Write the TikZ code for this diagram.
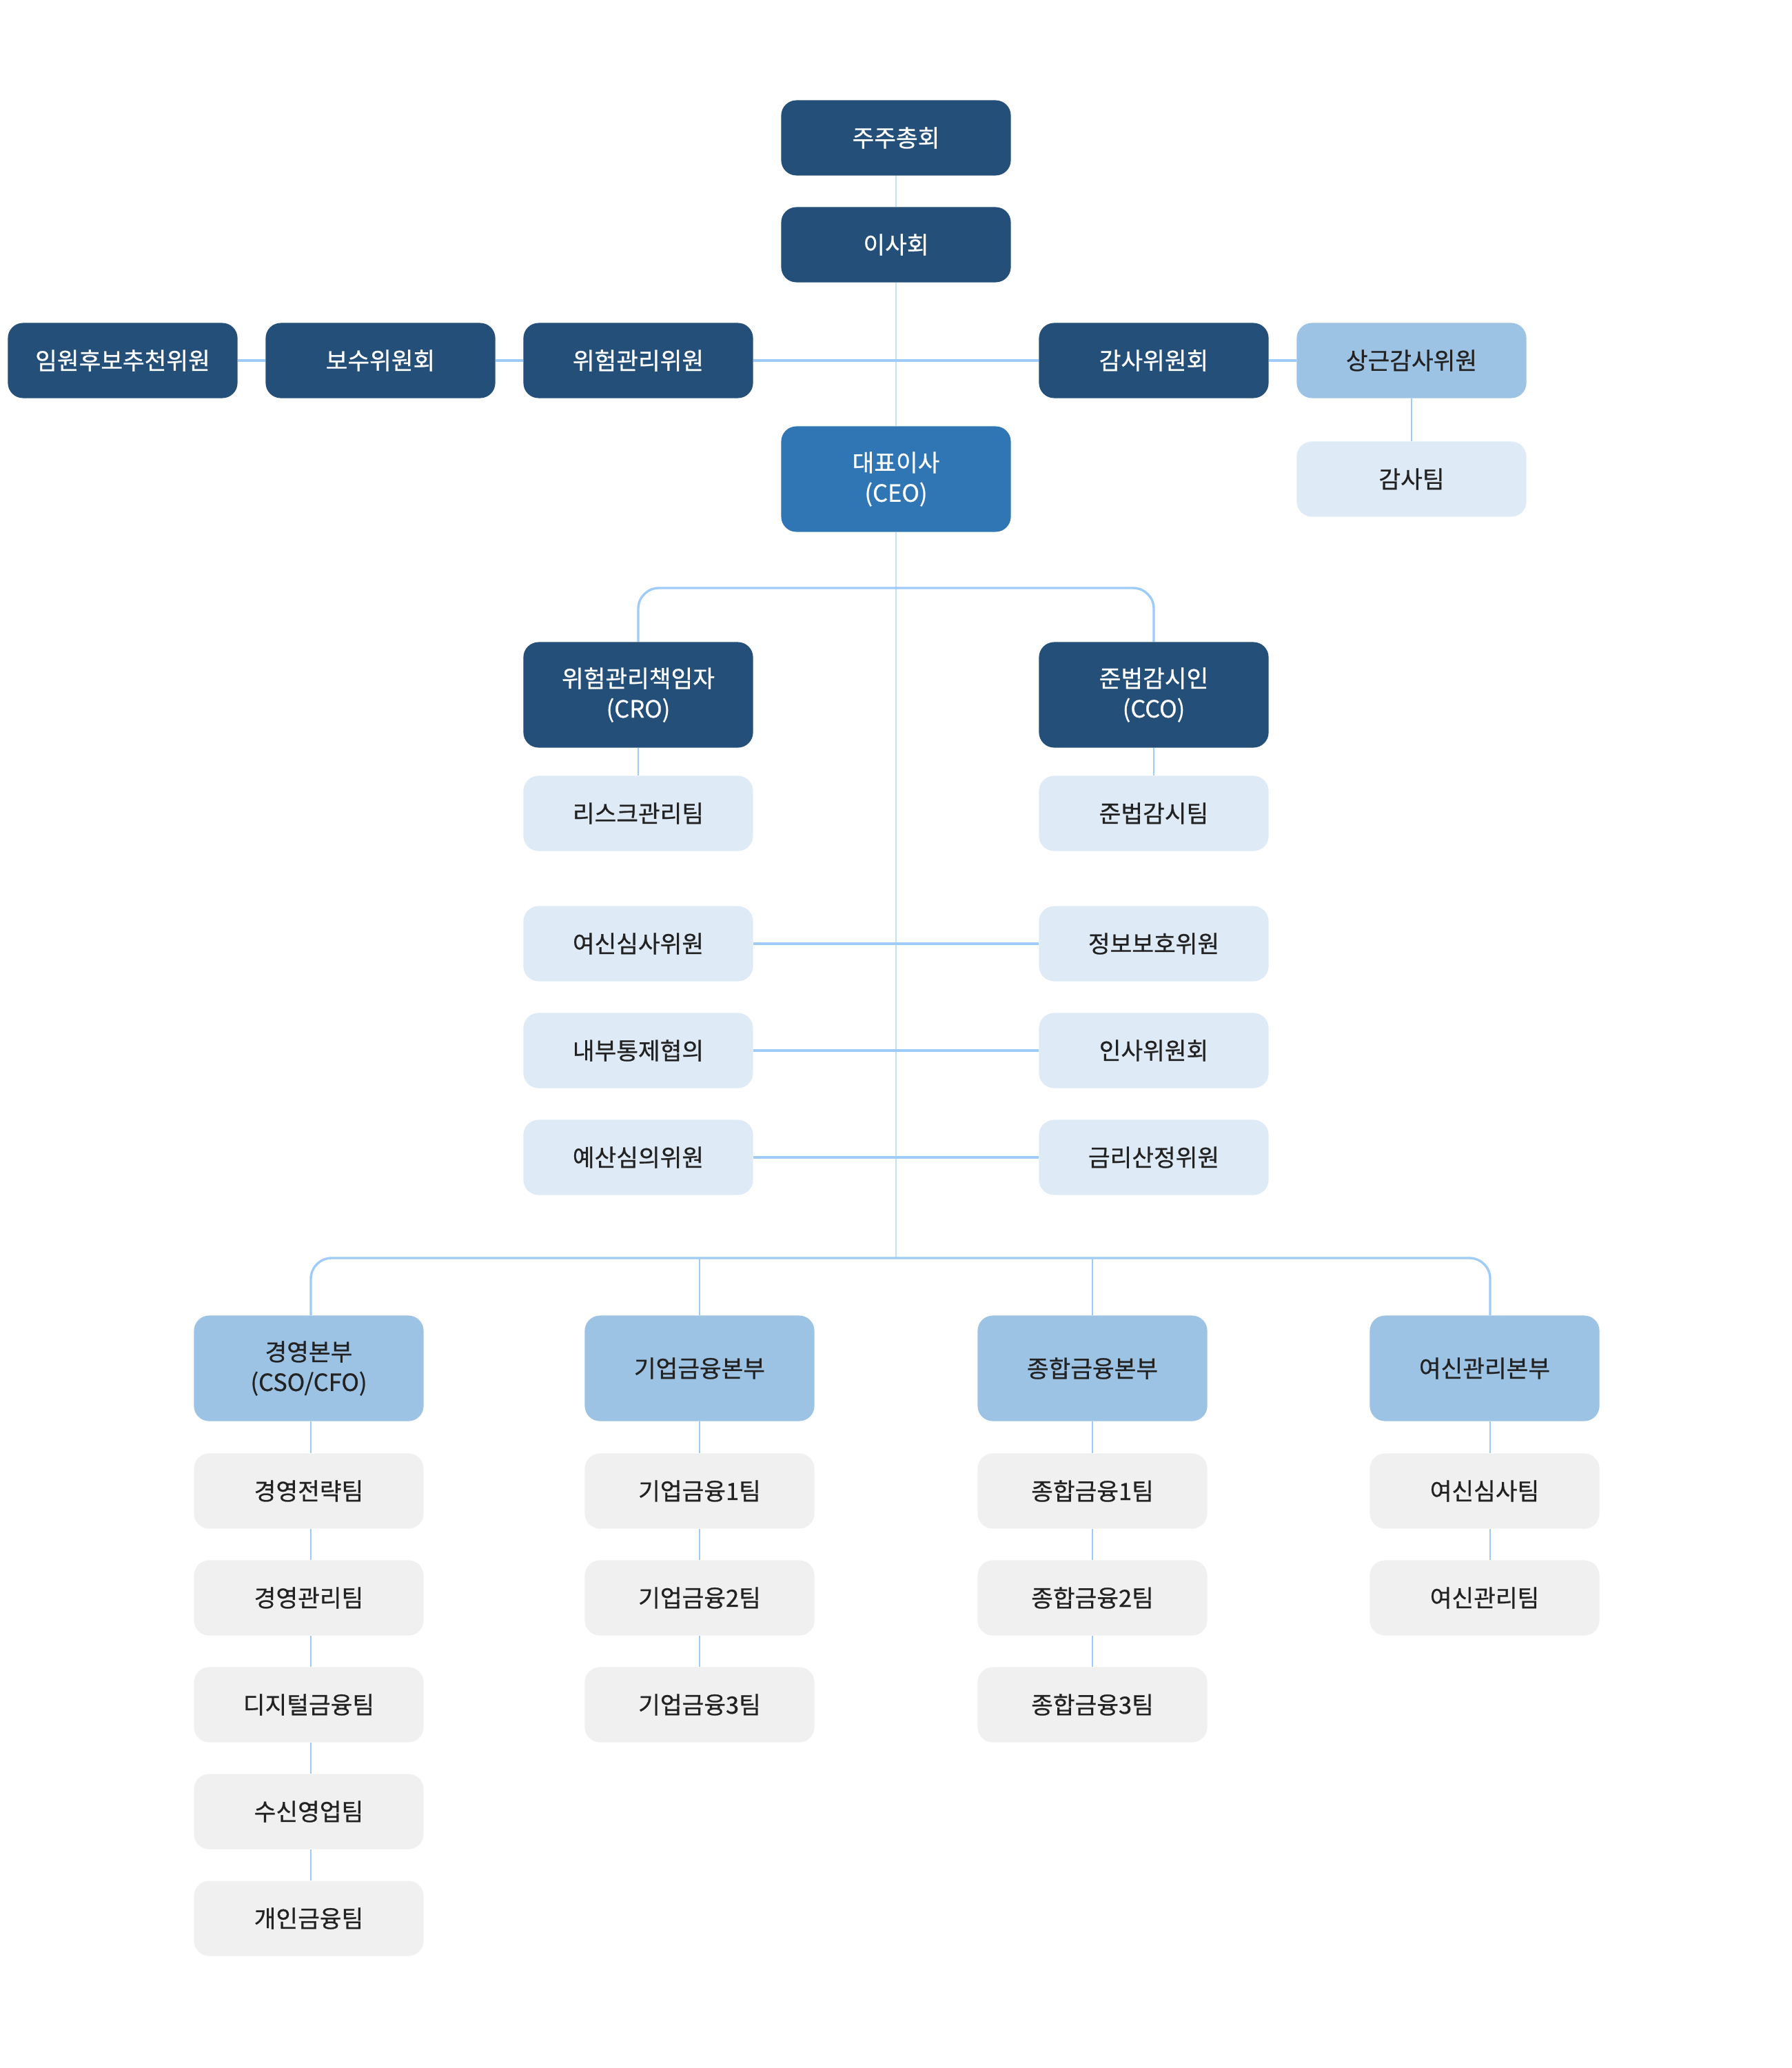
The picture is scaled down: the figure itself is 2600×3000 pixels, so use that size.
\documentclass[tikz,border=0pt]{standalone}
\usepackage{fontspec}
\setmainfont{Noto Sans CJK KR}[FakeBold=0.7]
\definecolor{navy}{HTML}{234F78}
\definecolor{ceoblue}{HTML}{3076B4}
\definecolor{midblue}{HTML}{9DC3E4}
\definecolor{paleblue}{HTML}{DEEAF6}
\definecolor{palegray}{HTML}{F0F0F0}
\definecolor{linkblue}{HTML}{9ECBF8}
\definecolor{trunkblue}{HTML}{C4DFF8}
\definecolor{ink}{HTML}{222222}
\begin{document}
\begin{tikzpicture}[x=0.01cm,y=-0.01cm,
  basebox/.style={rounded corners=0.22cm, minimum width=3.33cm, minimum height=1.09cm,
    inner sep=0pt, align=center, font=\fontsize{9.8}{12.5}\selectfont},
  tall/.style={minimum height=1.53cm},
  dkbox/.style={basebox, fill=navy, text=white},
  ceobox/.style={basebox, tall, fill=ceoblue, text=white},
  midbox/.style={basebox, fill=midblue, text=ink},
  palebox/.style={basebox, fill=paleblue, text=ink},
  teambox/.style={basebox, fill=palegray, text=ink},
  link/.style={draw=linkblue, line width=0.95pt},
  vlink/.style={draw=linkblue, line width=0.65pt},
  trunk/.style={draw=trunkblue, line width=0.4pt}]
\fill[white] (0,0) rectangle (2600,3000);
\useasboundingbox (0,0) rectangle (2600,3000);

% top
\node[dkbox] (gm) at (1300,200) {주주총회};
\node[dkbox] (board) at (1300,355) {이사회};
\node[dkbox] (nom) at (178,523) {임원후보추천위원};
\node[dkbox] (pay) at (552,523) {보수위원회};
\node[dkbox] (riskc) at (926,523) {위험관리위원};
\node[dkbox] (audc) at (1674,523) {감사위원회};
\node[midbox] (stand) at (2048,523) {상근감사위원};
\node[palebox] (audt) at (2048,695) {감사팀};
\node[ceobox] (ceo) at (1300,695) {대표이사\\(CEO)};

% officers
\node[dkbox,tall] (cro) at (926,1008) {위험관리책임자\\(CRO)};
\node[dkbox,tall] (cco) at (1674,1008) {준법감시인\\(CCO)};
\node[palebox] (riskt) at (926,1180) {리스크관리팀};
\node[palebox] (compt) at (1674,1180) {준법감시팀};

% committees
\node[palebox] (c1l) at (926,1369) {여신심사위원};
\node[palebox] (c1r) at (1674,1369) {정보보호위원};
\node[palebox] (c2l) at (926,1524) {내부통제협의};
\node[palebox] (c2r) at (1674,1524) {인사위원회};
\node[palebox] (c3l) at (926,1679) {예산심의위원};
\node[palebox] (c3r) at (1674,1679) {금리산정위원};

\coordinate (busT) at (1300,853);
\coordinate (busB) at (1300,1825);

% divisions
\node[midbox,tall] (d1) at (448,1985) {경영본부\\(CSO/CFO)};
\node[midbox,tall] (d2) at (1015,1985) {기업금융본부};
\node[midbox,tall] (d3) at (1585,1985) {종합금융본부};
\node[midbox,tall] (d4) at (2154,1985) {여신관리본부};

% teams
\node[teambox] (t11) at (448,2163) {경영전략팀};
\node[teambox] (t12) at (448,2318) {경영관리팀};
\node[teambox] (t13) at (448,2473) {디지털금융팀};
\node[teambox] (t14) at (448,2628) {수신영업팀};
\node[teambox] (t15) at (448,2783) {개인금융팀};
\node[teambox] (t21) at (1015,2163) {기업금융1팀};
\node[teambox] (t22) at (1015,2318) {기업금융2팀};
\node[teambox] (t23) at (1015,2473) {기업금융3팀};
\node[teambox] (t31) at (1585,2163) {종합금융1팀};
\node[teambox] (t32) at (1585,2318) {종합금융2팀};
\node[teambox] (t33) at (1585,2473) {종합금융3팀};
\node[teambox] (t41) at (2154,2163) {여신심사팀};
\node[teambox] (t42) at (2154,2318) {여신관리팀};

% connectors
\draw[trunk] (gm.south) -- (board.north);
\draw[trunk] (board.south) -- (ceo.north);
\draw[trunk] (ceo.south) -- (busB);

\draw[link] (nom.east) -- (pay.west);
\draw[link] (pay.east) -- (riskc.west);
\draw[link] (riskc.east) -- (audc.west);
\draw[link] (audc.east) -- (stand.west);
\draw[vlink] (stand.south) -- (audt.north);

\draw[link, rounded corners=0.3cm] (cro.north) |- (busT) -| (cco.north);
\draw[vlink] (cro.south) -- (riskt.north);
\draw[vlink] (cco.south) -- (compt.north);

\draw[link] (c1l.east) -- (c1r.west);
\draw[link] (c2l.east) -- (c2r.west);
\draw[link] (c3l.east) -- (c3r.west);

\draw[link, rounded corners=0.3cm] ([xshift=0.03cm]d1.north) |- (busB) -| ([xshift=0.08cm]d4.north);
\draw[vlink] (d2.north |- busB) -- (d2.north);
\draw[vlink] (d3.north |- busB) -- (d3.north);

\draw[vlink] ([xshift=0.03cm]d1.south) -- ([xshift=0.03cm]t11.north);
\draw[vlink] ([xshift=0.03cm]t11.south) -- ([xshift=0.03cm]t12.north);
\draw[vlink] ([xshift=0.03cm]t12.south) -- ([xshift=0.03cm]t13.north);
\draw[vlink] ([xshift=0.03cm]t13.south) -- ([xshift=0.03cm]t14.north);
\draw[vlink] ([xshift=0.03cm]t14.south) -- ([xshift=0.03cm]t15.north);
\draw[vlink] (d2.south) -- (t21.north);
\draw[vlink] (t21.south) -- (t22.north);
\draw[vlink] (t22.south) -- (t23.north);
\draw[vlink] (d3.south) -- (t31.north);
\draw[vlink] (t31.south) -- (t32.north);
\draw[vlink] (t32.south) -- (t33.north);
\draw[vlink] ([xshift=0.08cm]d4.south) -- ([xshift=0.08cm]t41.north);
\draw[vlink] ([xshift=0.08cm]t41.south) -- ([xshift=0.08cm]t42.north);
\end{tikzpicture}
\end{document}
